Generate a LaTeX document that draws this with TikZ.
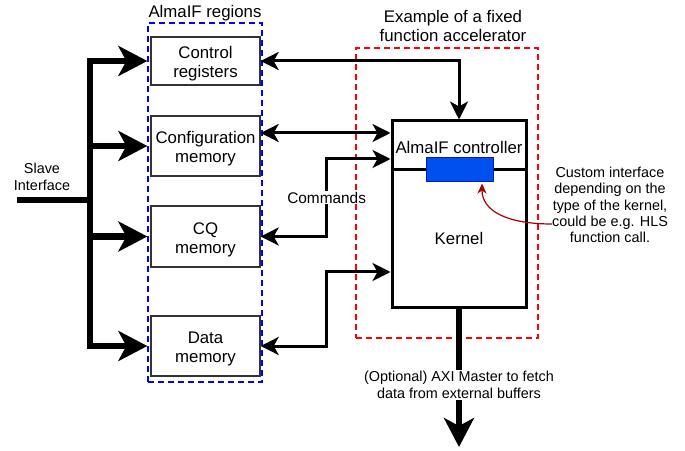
\documentclass[tikz,border=0pt]{standalone}
\usepackage{fontspec}
\setmainfont{Liberation Sans}
\usetikzlibrary{arrows.meta}

\definecolor{regionblue}{HTML}{0000FF}
\definecolor{accred}{HTML}{FF0000}
\definecolor{ifacefill}{HTML}{0050EF}
\definecolor{ifacedraw}{HTML}{001DBC}
\definecolor{notered}{HTML}{A50000}

\tikzset{
  bigfont/.style={font=\fontsize{16.8bp}{19bp}\selectfont},
  smallfont/.style={font=\fontsize{14.4bp}{16.6bp}\selectfont},
  region/.style={draw=black!80, line width=1.3bp, minimum width=109bp, inner sep=0pt},
  regiontext/.style={align=center, inner sep=0pt, bigfont, yshift=-3bp},
  accblock/.style={draw, line width=3bp, minimum width=134bp, inner sep=0pt, bigfont},
  iface/.style={draw=ifacedraw, fill=ifacefill, line width=1bp, minimum width=67bp, minimum height=24bp, inner sep=0pt},
  regionframe/.style={draw=regionblue, line width=2bp, dash pattern=on 6bp off 4bp, inner sep=0pt},
  accframe/.style={draw=accred, line width=2bp, dash pattern=on 6bp off 4bp, inner sep=0pt},
  bus/.style={line width=6.7bp},
  link/.style={line width=3bp},
  bigtip/.tip={Stealth[length=29bp, width=30bp, inset=8bp]},
  smalltip/.tip={Stealth[length=18bp, width=18bp, inset=5bp]},
  notetip/.tip={Stealth[length=10bp, width=9bp, inset=3bp]},
}

\begin{document}
\begin{tikzpicture}[x=1bp, y=-1bp]
  \useasboundingbox (0,0) rectangle (685,451);

  % Frames
  \node[regionframe, minimum width=114bp, minimum height=359bp] (almaif) at (205,202.5) {};
  \node[bigfont] (almaiftitle) at (205,13.5) {AlmaIF regions};
  \node[accframe, minimum width=182bp, minimum height=290bp] (accel) at (447,193) {};
  \node[align=center, font=\fontsize{16.8bp}{18.5bp}\selectfont] (acctitle) at (453,26) {Example of a fixed\\function accelerator};

  % AlmaIF regions
  \node[region, minimum height=48bp, label={[regiontext]center:Control\\registers}] (ctrlreg) at (205.5,61) {};
  \node[region, minimum height=60bp, label={[regiontext]center:Configuration\\memory}] (cfgmem) at (205.5,146) {};
  \node[region, minimum height=61bp, label={[regiontext]center:CQ\\memory}] (cqmem) at (205.5,236.5) {};
  \node[region, minimum height=60bp, label={[regiontext]center:Data\\memory}] (datamem) at (205.5,346) {};

  % Accelerator
  \node[accblock, minimum height=49bp, label={[bigfont, yshift=-1.5bp]center:AlmaIF controller}] (ctrl) at (459,145.5) {};
  \node[accblock, minimum height=137bp] (kern) at (459,238.5) {Kernel};
  \node[iface] (iface) at (459.5,170) {};

  % Slave interface bus
  \node[smallfont, align=center] (slave) at (42,177) {Slave\\Interface};
  \coordinate (slvin) at (17,200);
  \coordinate (trunk) at (90,200);
  \draw[bus] (slvin) -- (trunk);
  \draw[bus, -bigtip, shorten >=3bp] (trunk) |- (ctrlreg.west);
  \draw[bus, -bigtip, shorten >=3bp] (trunk |- cfgmem.west) -- (cfgmem.west);
  \draw[bus, -bigtip, shorten >=3bp] (trunk |- cqmem.west) -- (cqmem.west);
  \draw[bus, -bigtip, shorten >=3bp] (trunk) |- (datamem.west);

  % Links to the accelerator
  \coordinate (cfgport) at ([yshift=13bp]cfgmem.east);
  \coordinate (cmdin) at ([yshift=-13.5bp]ctrl.west);
  \coordinate (datain) at ([yshift=-33.5bp]kern.west);
  \draw[link, smalltip-smalltip] (ctrlreg.east) -| (ctrl.north);
  \draw[link, smalltip-smalltip] (cfgport) -- (cfgport -| ctrl.west);
  \draw[link, smalltip-smalltip] (cqmem.east) -- ++(66,0) |- node[pos=0.25, fill=white, inner sep=1bp, font=\fontsize{15.4bp}{18bp}\selectfont] (cmdlbl) {Commands} (cmdin);
  \draw[link, smalltip-smalltip] (datamem.east) -- ++(66,0) |- (datain);

  % Master output
  \coordinate (axiout) at (459,447);
  \draw[bus, -bigtip] (kern.south) -- node[pos=0.55, fill=white, inner sep=1.5bp, smallfont, align=center] (axilbl) {(Optional) AXI Master to fetch\\data from external buffers} (axiout);

  % Custom interface note
  \node[align=center, inner sep=0pt, font=\fontsize{14.4bp}{16.3bp}\selectfont] (note) at (610,205) {Custom interface\\depending on the\\type of the kernel,\\could be e.g. HLS\\function call.};
  \coordinate (notept) at ([yshift=-19bp]note.west);
  \draw[notered, line width=1.2bp, -notetip] (notept) .. controls (505,224) and (482,210) .. ([xshift=22.5bp, yshift=-1bp]iface.south);
\end{tikzpicture}
\end{document}
